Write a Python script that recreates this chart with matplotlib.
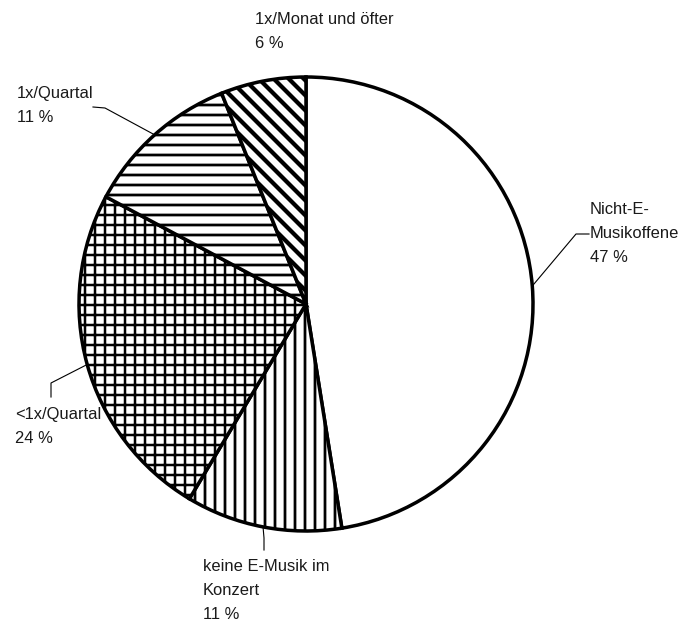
import numpy as np
import matplotlib.pyplot as plt

plt.rcParams['font.family'] = ['Liberation Sans', 'DejaVu Sans']

# Besuchshäufigkeit von E-Musik-Konzerten
labels = ["Nicht-E-\nMusikoffene", "keine E-Musik im\nKonzert", "<1x/Quartal",
          "1x/Quartal", "1x/Monat und öfter"]
shares = [47, 11, 24, 11, 6]
hatches = ["", "|||", "+++", "---", "\\\\\\\\"]
hatch_widths = [1.1, 1.1, 1.0, 1.1, 1.7]

W, H = 683, 628
DPI = 180


def fy(y):
    # pixel row (from top) -> data y
    return H - y


fig = plt.figure(figsize=(W / DPI, H / DPI), dpi=DPI)
ax = fig.add_axes([0, 0, 1, 1])

cx, cy, r = 306, fy(304), 227
wedges, _ = ax.pie(shares, center=(cx, cy), radius=r, startangle=90,
                   counterclock=False, colors=["white"] * len(shares),
                   wedgeprops=dict(edgecolor="black", linewidth=1.4))
for w, h, lw in zip(wedges, hatches, hatch_widths):
    w.set_hatch(h)
    if hasattr(w, "set_hatch_linewidth"):
        w.set_hatch_linewidth(lw)

ax.set_xlim(0, W)
ax.set_ylim(0, H)
ax.set_aspect("equal")
ax.axis("off")

# label text position (left, top) and leader line knee points in pixels
label_pos = [(590, 202), (203, 559), (15, 407), (17, 86), (255, 12)]
leaders = [[(589, 234), (576, 234)],
           [(264, 550), (264, 538)],
           [(51, 397), (51, 383)],
           [(93, 107), (105, 108)],
           None]

for w, lab, val, (tx, ty), knee in zip(wedges, labels, shares, label_pos, leaders):
    ax.text(tx, fy(ty), f"{lab}\n{val} %", ha="left", va="top",
            fontsize=6.6, linespacing=1.76, color="#1a1a1a")
    if knee is None:
        continue
    mid = np.deg2rad((w.theta1 + w.theta2) / 2)
    ex, ey = cx + r * np.cos(mid), cy + r * np.sin(mid)
    xs = [p[0] for p in knee] + [ex]
    ys = [fy(p[1]) for p in knee] + [ey]
    ax.plot(xs, ys, color="black", linewidth=0.45)

fig.savefig("out.png", dpi=DPI)
